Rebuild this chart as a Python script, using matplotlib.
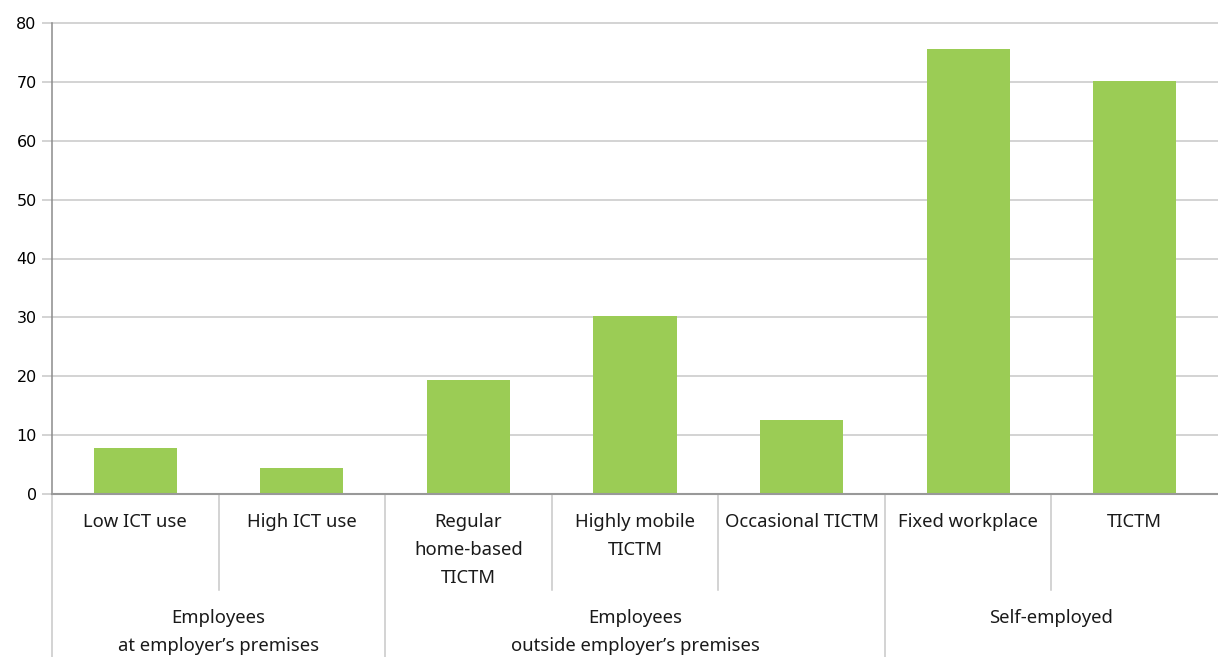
import matplotlib
matplotlib.use("Agg")
import matplotlib.pyplot as plt
import matplotlib.transforms as mtransforms

# data
sub_labels = ["Low ICT use", "High ICT use", "Regular\nhome-based\nTICTM",
              "Highly mobile\nTICTM", "Occasional TICTM", "Fixed workplace", "TICTM"]
values = [7.8, 4.4, 19.4, 30.3, 12.6, 75.5, 70.1]
groups = ["Employees\nat employer\u2019s premises",
          "Employees\noutside employer\u2019s premises",
          "Self-employed"]
group_sizes = [2, 3, 2]

BAR_COLOR = "#9bcc55"
GRID_COLOR = "#c8c8c8"
LABEL_FONT = ["Noto Sans", "DejaVu Sans"]

fig = plt.figure(figsize=(12.18, 6.57), dpi=100)
W, H = 1218, 657
ax = fig.add_axes([52 / W, 1 - 494 / H, 1 - 52 / W, (494 - 23) / H])

x = range(len(values))
ax.bar(x, values, width=0.5, color=BAR_COLOR, zorder=3)

ax.set_xlim(-0.5, len(values) - 0.5)
ax.set_ylim(0, 80)
ax.set_yticks(range(0, 81, 10))
ax.yaxis.grid(True, color=GRID_COLOR, linewidth=1.1, zorder=0)
for gl in ax.get_ygridlines():
    gl.set_clip_on(False)
ax.tick_params(axis="y", length=7, color=GRID_COLOR, width=1.1, labelsize=11.5, pad=4)
ax.set_xticks([])

for s in ["top", "right"]:
    ax.spines[s].set_visible(False)
ax.spines["left"].set_color("#8c8c8c")
ax.spines["bottom"].set_color("#999999")
ax.spines["left"].set_linewidth(1.1)
ax.spines["bottom"].set_linewidth(1.5)
ax.spines["bottom"].set_zorder(4)

trans = mtransforms.blended_transform_factory(ax.transData, ax.transAxes)
px = 1 / (494 - 23)  # one pixel in axes units

# sub-category labels
for i, lab in enumerate(sub_labels):
    ax.text(i, -19 * px, lab, transform=trans, ha="center", va="top",
            fontsize=13.3, family=LABEL_FONT, linespacing=1.7, color="#1a1a1a")

# separators between sub-categories and groups
bounds = []
pos = 0
for g in group_sizes:
    bounds.append(pos)
    pos += g
group_edges = set(bounds)
for b in range(len(values)):
    xb = b - 0.5
    if b in group_edges:
        y_end = -(657 - 494) * px
    else:
        y_end = -(590 - 494) * px
    ax.plot([xb, xb], [0, y_end], transform=trans, color=GRID_COLOR,
            linewidth=1.1, clip_on=False, zorder=2)

# group labels
pos = 0
for g, lab in zip(group_sizes, groups):
    center = pos + (g - 1) / 2
    ax.text(center, -(609 - 494) * px, lab, transform=trans, ha="center", va="top",
            fontsize=13.3, family=LABEL_FONT, linespacing=1.7, color="#1a1a1a")
    pos += g

fig.savefig("out.png", dpi=100)
